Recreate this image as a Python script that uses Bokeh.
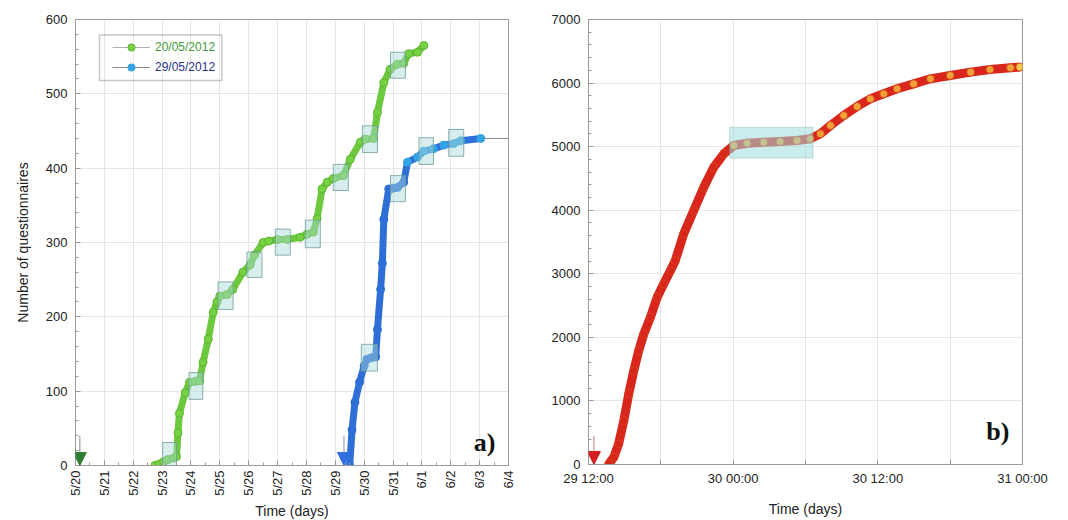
from math import pi
from bokeh.plotting import figure
from bokeh.layouts import row
from bokeh.models import (ColumnDataSource, FixedTicker, SingleIntervalTicker,
                          Legend, LegendItem, BoxAnnotation, Arrow, NormalHead, Label)
from bokeh.embed import file_html
from bokeh.resources import INLINE

# ---------------- Data: panel a (day of May; June 1 = 32) ----------------
a_tick_days = list(range(20, 36))
a_tick_labels = ["5/20", "5/21", "5/22", "5/23", "5/24", "5/25", "5/26", "5/27", "5/28",
                 "5/29", "5/30", "5/31", "6/1", "6/2", "6/3", "6/4"]

green_day = [22.75, 22.9, 23.05, 23.2, 23.4, 23.5, 23.55, 23.6, 23.8, 23.95, 24.15, 24.3,
             24.42, 24.6, 24.77, 24.9, 25.0, 25.25, 25.45, 25.8, 26.05, 26.2, 26.5, 26.7,
             27.0, 27.33, 27.78, 28.02, 28.24, 28.37, 28.54, 28.72, 28.93, 29.28, 29.52,
             29.87, 30.04, 30.33, 30.46, 30.68, 30.9, 31.15, 31.37, 31.54, 31.85, 32.07]
green_n = [0, 2, 5, 8, 10, 12, 44, 70, 98, 112, 113, 114, 139, 170, 206, 220, 228, 230, 237,
           260, 270, 283, 300, 302, 304, 304, 307, 311, 314, 332, 372, 381, 386, 390, 412, 435,
           439, 440, 475, 515, 533, 540, 541, 554, 556, 565]

blue_day = [29.5, 29.58, 29.68, 29.84, 30.0, 30.1, 30.25, 30.4, 30.46, 30.57, 30.63, 30.68,
            30.85, 31.0, 31.15, 31.37, 31.5, 31.85, 32.07, 32.4, 32.76, 33.1, 33.35, 34.04, 35.0]
blue_n = [0, 48, 85, 112, 134, 143, 145, 146, 183, 237, 272, 331, 372, 373, 374, 381, 408,
          415, 423, 426, 431, 433, 437, 440, 440]

green_box_left = [23.02, 23.93, 24.94, 25.94, 26.92, 27.96, 28.93, 29.94, 30.91]
green_box_right = [23.5, 24.41, 25.46, 26.46, 27.44, 28.48, 29.45, 30.46, 31.43]
green_box_bottom = [-3, 89, 210, 253, 283, 293, 370, 421, 521]
green_box_top = [31, 125, 247, 287, 318, 330, 405, 457, 556]

blue_box_left = [29.9, 30.91, 31.9, 32.93]
blue_box_right = [30.46, 31.43, 32.4, 33.45]
blue_box_bottom = [127, 355, 405, 416]
blue_box_top = [163, 390, 441, 452]

# ---------------- Data: panel b (hours after 29 May 12:00) ----------------
b_ticks = [0, 6, 12, 18, 24, 30, 36]
b_tick_labels = ["29 12:00", "", "30 00:00", "", "30 12:00", "", "31 00:00"]

red_h = [1.66, 2.1, 2.5, 2.93, 3.34, 3.76, 4.17, 4.59, 5.14, 5.7, 6.24, 6.8, 7.2, 7.9, 8.73,
         9.56, 10.39, 11.22, 12.05, 13.16, 14.54, 15.9, 17.3, 18.4, 19.24, 20.07, 21.17, 22.28,
         23.38, 24.49, 25.6, 26.97, 28.36, 30.0, 31.7, 33.3, 35.0, 35.77]
red_n = [0, 115, 325, 690, 1112, 1478, 1793, 2055, 2317, 2632, 2842, 3052, 3209, 3629, 3995,
         4362, 4677, 4887, 5018, 5054, 5070, 5081, 5097, 5123, 5202, 5333, 5490, 5632, 5752,
         5831, 5910, 5988, 6067, 6120, 6172, 6214, 6241, 6251]

red_box = dict(left=11.7, right=18.63, bottom=4820, top=5306)

FONT = "Liberation Sans"
AX = "#9a9a9a"
GRID = "#e6e6e6"


def style_axis(ax):
    ax.axis_line_color = AX
    ax.major_tick_line_color = AX
    ax.minor_tick_line_color = AX
    ax.major_tick_in = 5
    ax.major_tick_out = 0
    ax.minor_tick_in = 3
    ax.minor_tick_out = 0
    ax.major_label_text_font = FONT
    ax.major_label_text_font_size = "13px"
    ax.major_label_text_color = "#222222"
    ax.axis_label_text_font = FONT
    ax.axis_label_text_font_size = "14px"
    ax.axis_label_text_font_style = "normal"
    ax.axis_label_text_color = "#222222"


# ================= Panel a =================
p1 = figure(frame_width=433, frame_height=446, x_range=(20, 35), y_range=(0, 600),
            output_backend="svg", toolbar_location=None,
            min_border_left=75, min_border_right=30, min_border_top=17, min_border_bottom=50)
p1.outline_line_color = AX

xt = FixedTicker(ticks=a_tick_days, minor_ticks=[d + 0.5 for d in a_tick_days[:-1]])
yt = SingleIntervalTicker(interval=100, num_minor_ticks=5)
p1.xaxis.ticker = xt
p1.yaxis.ticker = yt
p1.xaxis.major_label_overrides = {d: l for d, l in zip(a_tick_days, a_tick_labels)}
p1.xaxis.major_label_orientation = pi / 2
p1.xaxis.axis_label = "Time (days)"
p1.yaxis.axis_label = "Number of questionnaires"
style_axis(p1.xaxis[0])
style_axis(p1.yaxis[0])
p1.yaxis.major_label_standoff = 8
p1.yaxis.axis_label_standoff = 12
p1.xaxis.major_label_standoff = 5
p1.xaxis.axis_label_standoff = 4
p1.xgrid.ticker = xt
p1.ygrid.ticker = yt
p1.xgrid.grid_line_color = GRID
p1.ygrid.grid_line_color = GRID

g_thin = p1.line(green_day, green_n, line_color="#b0b0b0", line_width=1)
b_thin = p1.line(blue_day, blue_n, line_color="#8a8a8a", line_width=1)
p1.line(green_day, green_n, line_color="#6cc83c", line_width=7, line_join="round")
p1.line(blue_day[:-1], blue_n[:-1], line_color="#2d6fd6", line_width=7, line_join="round")

g_src = ColumnDataSource(dict(x=green_day, y=green_n))
g_sc = p1.scatter("x", "y", source=g_src, size=8, fill_color="#76d143", line_color="#5cb530")
b_colors = ["#2d6fd6" if d < 31.4 else "#33a3e4" for d in blue_day[:-1]]
b_src = ColumnDataSource(dict(x=blue_day[:-1], y=blue_n[:-1], c=b_colors))
b_sc = p1.scatter("x", "y", source=b_src, size=8, fill_color="c", line_color="c")

p1.quad(left=green_box_left, right=green_box_right, bottom=green_box_bottom, top=green_box_top,
        fill_color="#a9dada", fill_alpha=0.45, line_color="#6f9c9c", line_width=1, line_alpha=0.8)
p1.quad(left=blue_box_left, right=blue_box_right, bottom=blue_box_bottom, top=blue_box_top,
        fill_color="#a9dada", fill_alpha=0.45, line_color="#6f9c9c", line_width=1, line_alpha=0.8)

p1.add_layout(Arrow(end=NormalHead(size=13, fill_color="#2e7d32", line_color="#2e7d32"),
                    x_start=20.15, y_start=40, x_end=20.15, y_end=0,
                    line_color="#8a8a8a", line_width=1))
p1.add_layout(Arrow(end=NormalHead(size=13, fill_color="#2f6fe0", line_color="#2f6fe0"),
                    x_start=29.3, y_start=40, x_end=29.3, y_end=0,
                    line_color="#7f95c0", line_width=1))

leg_common = dict(border_line_alpha=0, background_fill_alpha=0, padding=0, margin=0,
                  spacing=0, glyph_width=38, glyph_height=18, label_height=18,
                  label_standoff=5, label_text_font=FONT, label_text_font_size="12px")
leg1 = Legend(items=[LegendItem(label="20/05/2012", renderers=[g_thin, g_sc], index=0)],
              location=(37, 409), label_text_color="#3f9a3a", **leg_common)
leg2 = Legend(items=[LegendItem(label="29/05/2012", renderers=[b_thin, b_sc],
                                index=len(b_colors) - 1)],
              location=(37, 389), label_text_color="#2d2f86", **leg_common)
p1.add_layout(leg1, "center")
p1.add_layout(leg2, "center")
p1.add_layout(BoxAnnotation(left=20.83, right=25.07, bottom=518, top=579,
                            fill_alpha=0, line_color="#444444", line_width=1.5))
p1.add_layout(Label(x=33.8, y=12, text="a)", text_font="Liberation Serif",
                    text_font_style="bold", text_font_size="26px", text_color="#111111"))

# ================= Panel b =================
p2 = figure(frame_width=434, frame_height=445, x_range=(0, 36), y_range=(0, 7000),
            output_backend="svg", toolbar_location=None,
            min_border_left=50, min_border_right=38, min_border_top=19, min_border_bottom=50)
p2.outline_line_color = AX
xt2 = FixedTicker(ticks=b_ticks)
yt2 = SingleIntervalTicker(interval=1000, num_minor_ticks=5)
p2.xaxis.ticker = xt2
p2.yaxis.ticker = yt2
p2.xaxis.major_label_overrides = {t: l for t, l in zip(b_ticks, b_tick_labels)}
p2.xaxis.axis_label = "Time (days)"
style_axis(p2.xaxis[0])
style_axis(p2.yaxis[0])
p2.yaxis.major_label_standoff = 8
p2.xaxis.major_label_standoff = 6
p2.xaxis.axis_label_standoff = 12
p2.xgrid.ticker = xt2
p2.ygrid.ticker = yt2
p2.xgrid.grid_line_color = GRID
p2.ygrid.grid_line_color = GRID

p2.line(red_h, red_n, line_color="#d8261c", line_width=9, line_join="round")
r_fill = ["#d8261c" if h < 12 else "#f0a238" for h in red_h]
r_fill[-1] = "#f5c84a"
r_src = ColumnDataSource(dict(x=red_h, y=red_n, c=r_fill))
p2.scatter("x", "y", source=r_src, size=8, fill_color="c", line_color="#d8401c", line_width=1)
p2.add_layout(BoxAnnotation(fill_color="#9fdcdc", fill_alpha=0.55, line_color="#6f9c9c",
                            line_width=1, **red_box))
p2.add_layout(Arrow(end=NormalHead(size=13, fill_color="#d42020", line_color="#d42020"),
                    x_start=0.45, y_start=450, x_end=0.45, y_end=0,
                    line_color="#c08080", line_width=1))
p2.add_layout(Label(x=33.0, y=290, text="b)", text_font="Liberation Serif",
                    text_font_style="bold", text_font_size="26px", text_color="#111111"))

layout = row(p1, p2)
open("out.html", "w").write(file_html(layout, INLINE))
